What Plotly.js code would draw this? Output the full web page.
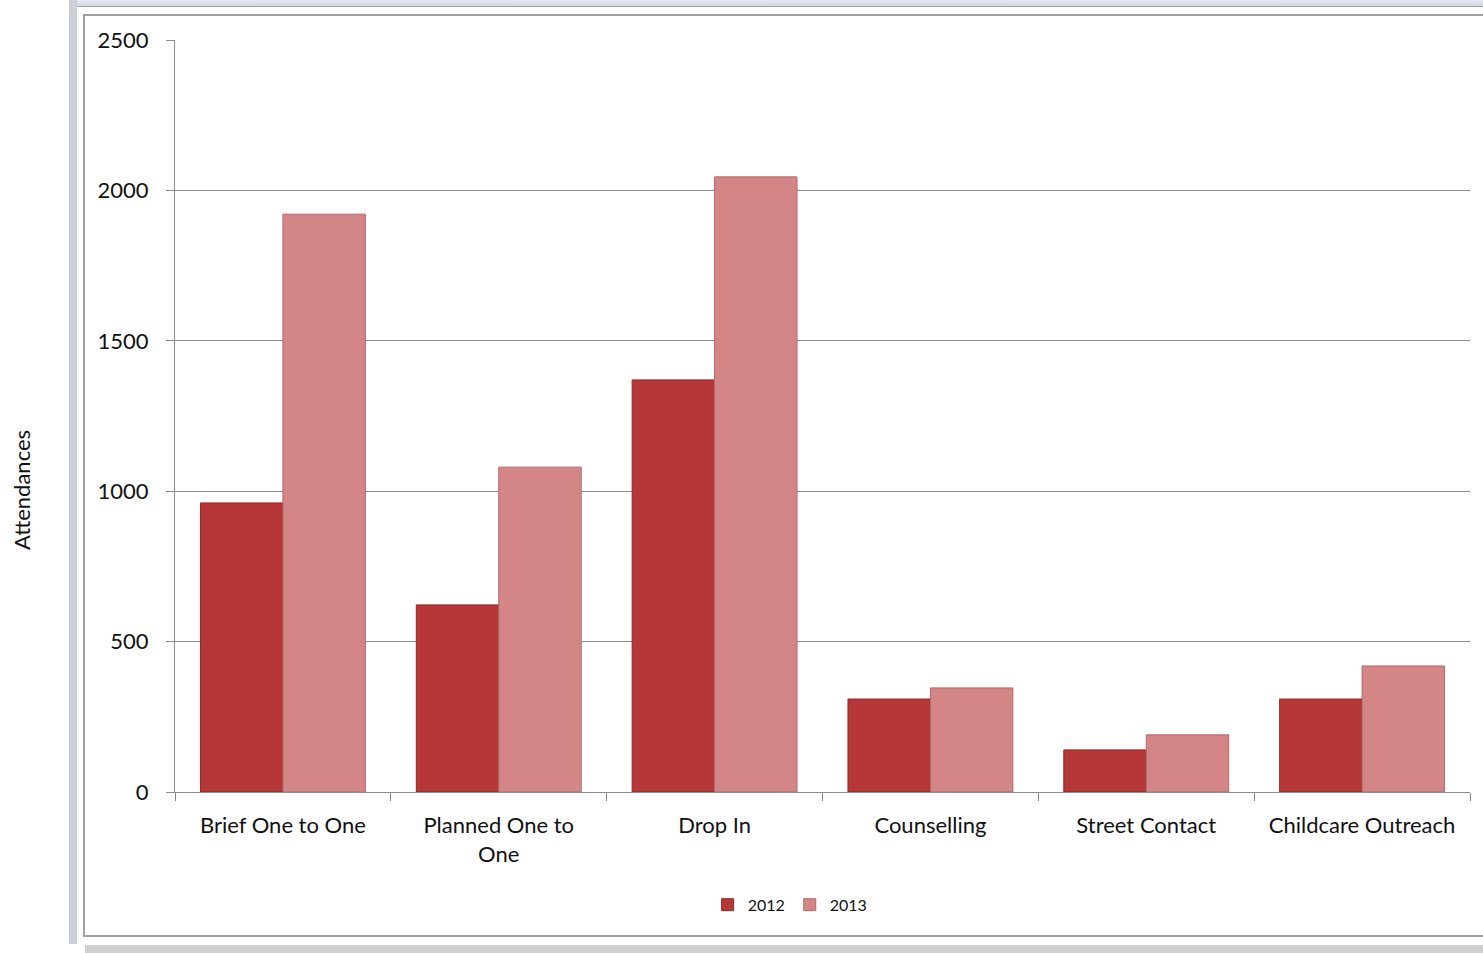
<!DOCTYPE html>
<html>
<head>
<meta charset="utf-8">
<script src="https://cdn.plot.ly/plotly-3.0.1.min.js"></script>
<style>
  html, body { margin: 0; padding: 0; background: #ffffff; }
  #wrap { position: relative; width: 1483px; height: 953px; overflow: hidden; background: #fff; }
  .f { position: absolute; }
  #chart { position: absolute; left: 0; top: 0; width: 1483px; height: 953px; }
</style>
</head>
<body>
<div id="wrap">
  <div class="f" style="left:69px; top:0; width:1414px; height:6px; background:linear-gradient(#e6e9f2,#d3d7e2); border-bottom:1px solid #a8a8a8;"></div>
  <div class="f" style="left:69px; top:0; width:8px; height:944px; background:#cdd0d6;"></div>
  <div class="f" style="left:85px; top:945px; width:1398px; height:8px; background:#cfcfcf;"></div>
  <div class="f" style="left:83px; top:14px; width:1420px; height:919px; border:2px solid #a0a0a0; background:#fff;"></div>
  <div id="chart"></div>
</div>
<script>
const categories = ["Brief One to One", "Planned One to<br>One", "Drop In", "Counselling", "Street Contact", "Childcare Outreach"];
const values2012 = [961, 622, 1370, 309, 140, 309];
const values2013 = [1921, 1080, 2045, 346, 190, 419];
const seriesNames = ["2012", "2013"];
const yTicks = [0, 500, 1000, 1500, 2000, 2500];
const yTitle = "Attendances";

const fontFam = "Lato, 'Noto Sans', sans-serif";

const traces = [
  {
    type: "bar", name: seriesNames[0], x: categories, y: values2012,
    marker: { color: "#b53737", line: { color: "#8e2a2a", width: 1 } }
  },
  {
    type: "bar", name: seriesNames[1], x: categories, y: values2013,
    marker: { color: "#d48686", line: { color: "#b06a6a", width: 1 } }
  }
];

const layout = {
  width: 1483, height: 953,
  margin: { l: 175, r: 13, t: 40, b: 161 },
  paper_bgcolor: "rgba(0,0,0,0)",
  plot_bgcolor: "rgba(0,0,0,0)",
  barmode: "group",
  bargap: 0.236,
  bargroupgap: 0,
  font: { family: fontFam, color: "#1a1a1a" },
  xaxis: {
    type: "category",
    showline: true, linecolor: "#8c8c8c", linewidth: 1,
    ticks: "outside", tickson: "boundaries", ticklen: 8, tickcolor: "#8c8c8c",
    ticklabelstandoff: 14,
    tickfont: { size: 22, family: fontFam, color: "#111111" },
    showgrid: false, automargin: false
  },
  yaxis: {
    range: [0, 2500],
    tickvals: yTicks,
    ticktext: yTicks.map(String),
    showline: true, linecolor: "#8c8c8c", linewidth: 1,
    ticks: "outside", ticklen: 8, tickcolor: "#8c8c8c",
    ticklabelstandoff: 13,
    tickfont: { size: 22, family: fontFam, color: "#111111" },
    showgrid: true, gridcolor: "#8c8c8c", gridwidth: 1,
    zeroline: false, automargin: false
  },
  showlegend: true,
  legend: {
    orientation: "h", x: 0.475, xanchor: "center", y: -0.150, yanchor: "middle",
    font: { size: 16, family: fontFam, color: "#111111" },
    bgcolor: "rgba(0,0,0,0)", itemwidth: 30, tracegroupgap: 0
  },
  annotations: [{
    text: yTitle, xref: "paper", yref: "paper",
    x: (22 - 175) / 1295, y: (792 - 490) / 752,
    xanchor: "center", yanchor: "middle", textangle: -90, showarrow: false,
    font: { size: 22, family: fontFam, color: "#111111" }
  }]
};

Plotly.newPlot("chart", traces, layout, { displayModeBar: false, staticPlot: true });
</script>
</body>
</html>
